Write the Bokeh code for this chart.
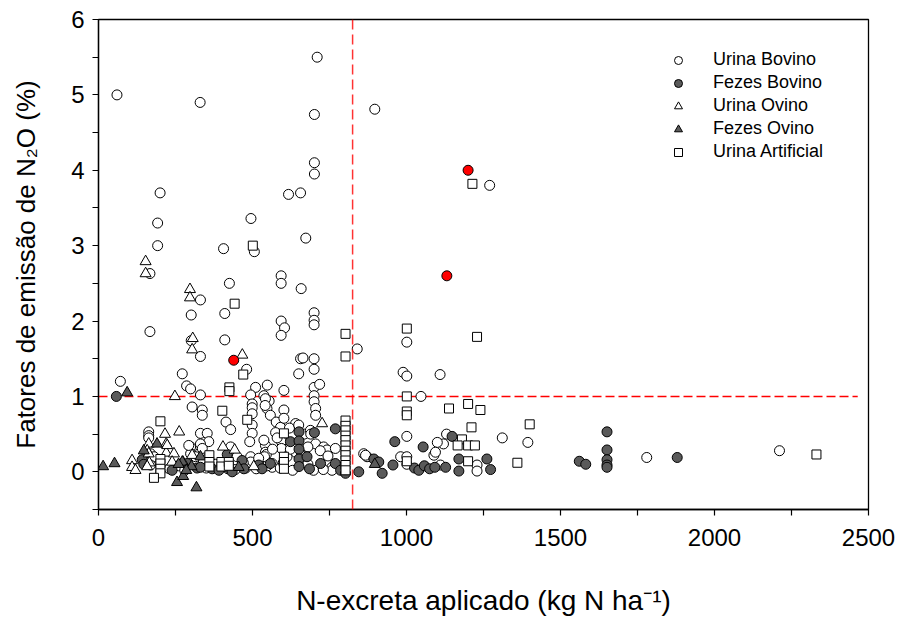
import math
from bokeh.plotting import figure
from bokeh.models import Range1d, FixedTicker, Span, Legend, LegendItem
from bokeh.embed import file_html
from bokeh.resources import INLINE

# ---------------- data ----------------
X_TICKS = [0, 500, 1000, 1500, 2000, 2500]
X_MINOR = [250, 750, 1250, 1750, 2250]
Y_TICKS = [0, 1, 2, 3, 4, 5, 6]
Y_MINOR = [-0.5, 0.5, 1.5, 2.5, 3.5, 4.5, 5.5]

THRESH_X = 825          # vertical reference (N-excreta)
THRESH_Y = 1.0          # horizontal reference (EF = 1 %)
THRESH_Y_END = 2465

ub_x = [60, 330, 710, 701, 897, 701, 701, 200, 617, 656, 192, 495, 673, 192, 406, 506,
        167, 425, 593, 593, 658, 331, 301, 410, 700, 700, 700, 593, 604, 593, 167, 301,
        410, 840, 331, 481, 656, 664, 700, 700, 650, 272, 71, 286, 299, 331, 510, 548,
        602, 494, 537, 700, 718, 700, 700, 554, 1270, 1001, 989, 1001, 1109, 1047,
        304, 337, 337, 499, 499, 499, 542, 547, 558, 541, 577, 591, 602, 602, 640, 414,
        429, 499, 499, 491, 705, 705, 163, 163, 163, 331, 353, 358, 331, 299, 299, 331,
        337, 594, 594, 542, 542, 545, 537, 539, 564, 564, 494, 494, 548, 705, 731, 742,
        769, 668, 688, 689, 698, 758, 758, 788, 861, 872, 169, 180, 169, 429, 293, 315,
        380, 420, 444, 478, 512, 590, 612, 640, 660, 623, 680, 720, 745, 600, 630, 680,
        730, 260, 230, 280, 340, 350, 450, 470, 520, 565, 575, 580, 620, 650,
        1001, 1130, 1120, 1100, 1311, 1394, 1780, 1229, 1229, 981, 1001, 1001, 1089,
        1094, 1110, 2211, 867]
ub_y = [5.00, 4.90, 5.50, 4.74, 4.81, 4.10, 3.95, 3.70, 3.68, 3.70, 3.30, 3.36, 3.10, 3.00, 2.96, 2.92,
        2.63, 2.50, 2.60, 2.50, 2.43, 2.28, 2.08, 2.10, 2.11, 2.01, 1.95, 2.00, 1.91, 1.81, 1.86, 1.74,
        1.75, 1.63, 1.53, 1.36, 1.50, 1.51, 1.50, 1.36, 1.30, 1.30, 1.20, 1.14, 1.10, 1.02, 1.12, 1.15,
        1.08, 1.02, 1.01, 1.12, 1.16, 1.01, 0.93, 0.94, 3.80, 1.72, 1.32, 1.27, 1.29, 1.00,
        0.86, 0.82, 0.75, 0.90, 0.85, 0.77, 0.97, 0.84, 0.75, 0.88, 0.66, 0.59, 0.82, 0.71, 0.64, 0.66,
        0.56, 0.62, 0.51, 0.40, 0.84, 0.75, 0.53, 0.48, 0.45, 0.51, 0.51, 0.40, 0.37, 0.33, 0.24, 0.26,
        0.31, 0.40, 0.31, 0.35, 0.26, 0.23, 0.42, 0.20, 0.11, 0.06, 0.20, 0.13, 0.08, 0.37, 0.33, 0.29,
        0.31, 0.50, 0.55, 0.50, 0.02, 0.06, 0.02, 0.06, 0.24, 0.20, 0.24, 0.20, 0.09, 0.33, 0.35, 0.20,
        0.10, 0.04, 0.03, 0.05, 0.04, 0.05, 0.20, 0.26, 0.22, 0.30, 0.33, 0.28, 0.21, 0.12, 0.02, 0.10,
        0.03, 0.08, 0.04, 0.02, 0.12, 0.05, 0.20, 0.12, 0.18, 0.30, 0.52, 0.45, 0.58, 0.62,
        0.47, 0.50, 0.37, 0.39, 0.45, 0.39, 0.19, 0.09, 0.01, 0.20, 0.20, 0.10, 0.22,
        0.26, 0.09, 0.28, 0.22]

fb_x = [58, 142, 147, 239, 288, 320, 331, 369, 391, 418, 418, 434, 466, 472, 520, 531, 558,
        623, 651, 651, 651, 651, 651, 677, 685, 701, 721, 769, 769, 786, 802, 845, 894, 910,
        921, 956, 962, 1026, 1040, 1054, 1058, 1075, 1092, 1127, 1148, 1170, 1170, 1261, 1273,
        1561, 1582, 1651, 1651, 1651, 1651, 1651, 1879]
fb_y = [1.00, 0.16, 0.10, 0.02, 0.11, 0.05, 0.06, 0.04, 0.02, 0.06, 0.23, 0.00, 0.15, 0.04, 0.09, 0.04, 0.11,
        0.40, 0.53, 0.41, 0.30, 0.17, 0.07, 0.20, 0.04, 0.52, 0.11, 0.57, 0.11, 0.02, -0.02, 0.00, 0.17, 0.13,
        -0.02, 0.09, 0.40, 0.05, 0.02, 0.33, 0.08, 0.04, 0.06, 0.06, 0.47, 0.17, 0.01, 0.17, 0.03,
        0.14, 0.10, 0.53, 0.29, 0.16, 0.09, 0.06, 0.19]

uo_x = [153, 153, 297, 297, 306, 304, 467, 248, 262, 216, 163, 220, 158, 163, 220, 245, 223,
        304, 109, 109, 120, 165, 158, 239, 274, 404, 442, 504, 726]
uo_y = [2.79, 2.63, 2.42, 2.31, 1.77, 1.62, 1.55, 1.00, 0.53, 0.50, 0.37, 0.37, 0.28, 0.24, 0.25, 0.24, 0.35,
        0.22, 0.15, 0.06, 0.02, 0.12, 0.07, 0.13, 0.13, 0.33, 0.29, 0.07, 0.64]

fo_x = [93, 15, 52, 190, 147, 255, 275, 318, 272, 302, 331, 455, 897, 260, 285]
fo_y = [1.05, 0.07, 0.11, 0.37, 0.28, -0.14, -0.06, -0.21, 0.13, 0.07, 0.20, 0.06, 0.10, 0.10, 0.02]

ua_x = [501, 442, 802, 802, 470, 425, 425, 402, 483, 201, 201, 201, 201, 201, 180, 360, 360, 360,
        399, 399, 423, 423, 602, 602, 602, 602,
        802, 802, 802, 802, 802, 802, 802, 802, 802, 802, 802,
        1214, 1001, 1229, 1001, 1138, 1200, 1240, 1001, 1001, 1211, 1400, 1180, 1166, 1200, 1222,
        1200, 1360, 1001, 2331]
ua_y = [3.00, 2.23, 1.83, 1.53, 1.29, 1.12, 1.07, 0.81, 0.69, 0.67, 0.17, 0.11, 0.04, -0.02, -0.08, 0.22, 0.13, 0.07,
        0.13, 0.07, 0.13, 0.08, 0.51, 0.20, 0.13, 0.04,
        0.68, 0.61, 0.55, 0.48, 0.42, 0.35, 0.28, 0.22, 0.15, 0.09, 0.02,
        3.82, 1.90, 1.79, 1.00, 0.84, 0.90, 0.82, 0.80, 0.75, 0.59, 0.63, 0.43, 0.35, 0.35, 0.35,
        0.14, 0.12, 0.14, 0.23]

red_x = [439, 1131, 1200]
red_y = [1.48, 2.60, 4.00]

X_TITLE = "N-excreta aplicado (kg N ha\u207b\u00b9)"
Y_TITLE = "Fatores de emissão de N\u2082O (%)"

# ---------------- figure ----------------
FONT = "Liberation Sans"
GRAY = "#5a5a5a"

p = figure(width=901, height=618, output_backend="svg", toolbar_location=None,
           x_range=Range1d(0, 2500), y_range=Range1d(-0.5, 6),
           min_border_left=98, min_border_right=33, min_border_top=19, min_border_bottom=109)
p.grid.visible = False
p.background_fill_color = "white"
p.border_fill_color = "white"
p.outline_line_color = "black"
p.outline_line_width = 1.3
p.outline_line_alpha = 1.0

for ax in (p.xaxis[0], p.yaxis[0]):
    ax.axis_line_color = "black"
    ax.axis_line_width = 1.3
    ax.major_tick_out = 6
    ax.major_tick_in = 0
    ax.minor_tick_out = 6
    ax.minor_tick_in = 0
    ax.major_tick_line_color = "black"
    ax.minor_tick_line_color = "black"
    ax.major_tick_line_width = 1.2
    ax.minor_tick_line_width = 1.2
    ax.major_label_text_font = FONT
    ax.major_label_text_font_size = "24px"
    ax.major_label_text_color = "black"
    ax.axis_label_text_font = FONT
    ax.axis_label_text_font_style = "normal"
    ax.axis_label_text_color = "black"

p.xaxis.axis_label_text_font_size = "28px"
p.yaxis.axis_label_text_font_size = "26px"
p.xaxis.ticker = FixedTicker(ticks=X_TICKS, minor_ticks=X_MINOR)
p.yaxis.ticker = FixedTicker(ticks=Y_TICKS, minor_ticks=Y_MINOR)
p.xaxis.major_label_standoff = 13
p.yaxis.major_label_standoff = 8
p.xaxis.axis_label = X_TITLE
p.yaxis.axis_label = Y_TITLE
p.xaxis.axis_label_standoff = 36
p.yaxis.axis_label_standoff = 27

# reference lines
p.add_layout(Span(location=THRESH_X, dimension="height", line_color="red",
                  line_width=1.5, line_dash="10 5", line_alpha=0.8))
p.segment(x0=[0], y0=[THRESH_Y], x1=[THRESH_Y_END], y1=[THRESH_Y],
          line_color="red", line_width=1.5, line_dash="9 4")

r_ub = p.scatter(ub_x, ub_y, marker="circle", size=10, fill_color="white",
                 line_color="black", line_width=1)
r_fb = p.scatter(fb_x, fb_y, marker="circle", size=10, fill_color=GRAY,
                 line_color="black", line_width=1)
r_uo = p.scatter(uo_x, uo_y, marker="triangle", size=11, fill_color="white",
                 line_color="black", line_width=1)
r_fo = p.scatter(fo_x, fo_y, marker="triangle", size=11, fill_color=GRAY,
                 line_color="black", line_width=1)
r_ua = p.scatter(ua_x, ua_y, marker="square", size=9, fill_color="white",
                 line_color="black", line_width=1)
r_red = p.scatter(red_x, red_y, marker="circle", size=10, fill_color="red",
                  line_color="black", line_width=1)

legend = Legend(items=[
    LegendItem(label="Urina Bovino", renderers=[r_ub]),
    LegendItem(label="Fezes Bovino", renderers=[r_fb]),
    LegendItem(label="Urina Ovino", renderers=[r_uo]),
    LegendItem(label="Fezes Ovino", renderers=[r_fo]),
    LegendItem(label="Urina Artificial", renderers=[r_ua]),
], location=(570, 347), border_line_color=None, background_fill_alpha=0,
    padding=0, margin=0, spacing=2, glyph_width=20, glyph_height=20,
    label_height=20, label_standoff=25, label_text_font=FONT,
    label_text_font_size="18px", label_text_color="black")
p.add_layout(legend)

open("out.html", "w").write(file_html(p, INLINE))
